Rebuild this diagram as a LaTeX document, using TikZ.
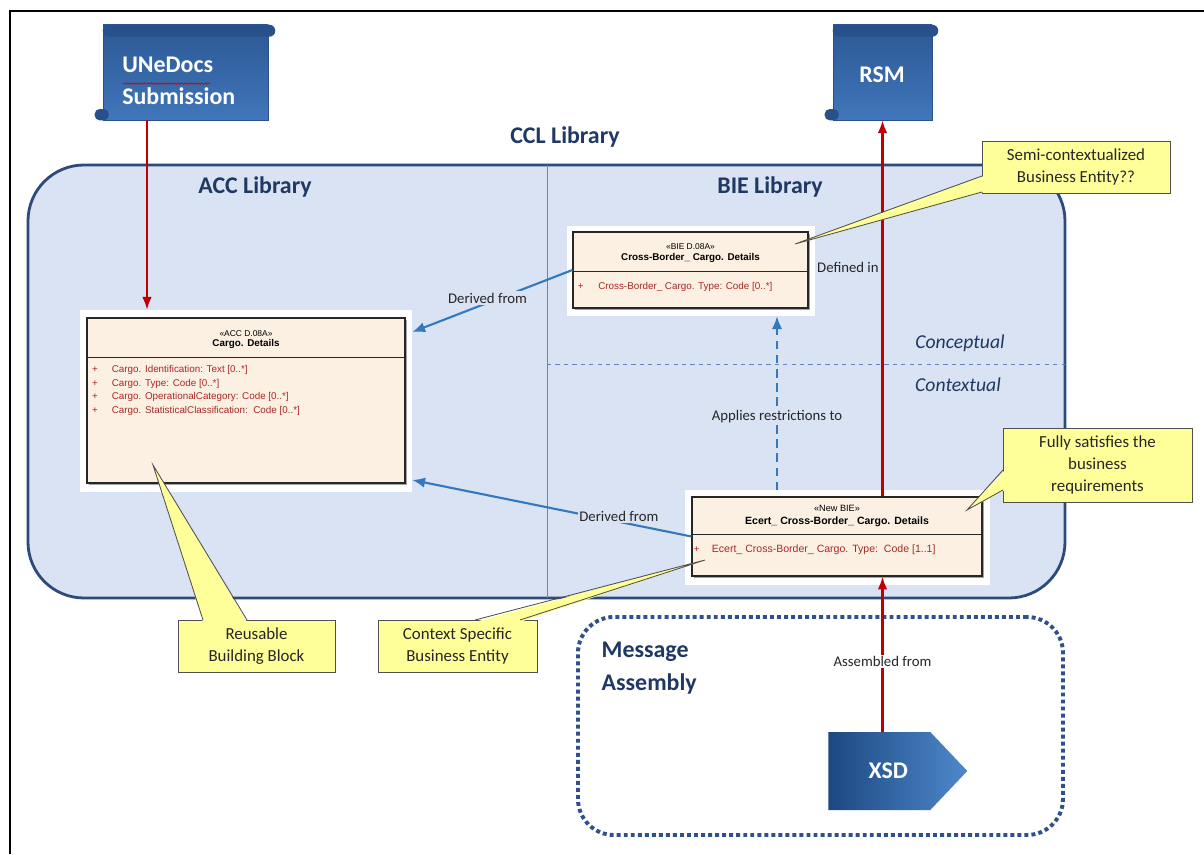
\documentclass[tikz,border=0pt]{standalone}
\usepackage{fontspec}
\setmainfont{Carlito}
\newfontfamily\umlfont{Liberation Sans}
\usetikzlibrary{arrows.meta,shapes.symbols,shadows,decorations.pathmorphing}
\definecolor{cclfill}{RGB}{218,227,243}
\definecolor{cclborder}{RGB}{44,74,122}
\definecolor{navytext}{RGB}{31,56,100}
\definecolor{divider}{RGB}{94,134,194}
\definecolor{scrolltop}{RGB}{44,88,148}
\definecolor{scrollbottom}{RGB}{64,118,186}
\definecolor{scrollroll}{RGB}{40,80,138}
\definecolor{xsddark}{RGB}{28,72,130}
\definecolor{xsdlight}{RGB}{78,136,202}
\definecolor{classfill}{RGB}{252,240,227}
\definecolor{attrred}{RGB}{168,40,36}
\definecolor{arrowred}{RGB}{192,0,0}
\definecolor{arrowblue}{RGB}{52,120,190}
\definecolor{notefill}{RGB}{255,255,153}
\definecolor{noteline}{RGB}{80,80,80}
\definecolor{msgborder}{RGB}{47,80,140}
\begin{document}
\begin{tikzpicture}[
  cclbox/.style={draw=cclborder, line width=2pt, fill=cclfill, rounded corners=1.4cm, inner sep=0pt},
  msgbox/.style={draw=msgborder, line width=2.8pt, dash pattern=on 2.8pt off 2.2pt, rounded corners=0.9cm, inner sep=0pt},
  title/.style={font=\fontsize{17}{20}\selectfont\bfseries, text=navytext, inner sep=1pt},
  layer/.style={font=\fontsize{14}{16}\selectfont\itshape, text=navytext, inner sep=1pt},
  scrollbody/.style={top color=scrolltop, bottom color=scrollbottom, draw=scrollroll, line width=0.4pt, inner sep=0pt},
  scrolltext/.style={font=\fontsize{17}{22.7}\selectfont\bfseries, text=white, inner sep=0pt},
  pad/.style={fill=white, inner sep=0pt},
  classbox/.style={draw=black!85, line width=0.8pt, fill=classfill, inner sep=0pt,
    drop shadow={shadow xshift=0.06cm, shadow yshift=-0.06cm, fill=black!60, opacity=0.6}},
  stereo/.style={font=\umlfont\fontsize{6}{7}\selectfont, inner sep=0pt},
  classname/.style={font=\umlfont\fontsize{7}{8}\selectfont\bfseries, inner sep=0pt},
  attr/.style={font=\umlfont\fontsize{7}{8}\selectfont, text=attrred, inner sep=0pt},
  lbl/.style={font=\fontsize{10.5}{12}\selectfont, text=black!85, inner sep=1pt},
  note/.style={draw=noteline, line width=0.6pt, fill=notefill, align=center, inner sep=0pt,
    font=\fontsize{12}{15.8}\selectfont, text=black!85},
  notefill/.style={fill=notefill},
  noteline/.style={draw=noteline, line width=0.6pt},
  redarrow/.style={draw=arrowred, line width=1.5pt, -{Latex[length=0.32cm,width=0.24cm]}},
  bluearrow/.style={draw=arrowblue, line width=1.5pt, -{Latex[length=0.32cm,width=0.26cm]}}]
  \useasboundingbox (0,0) rectangle (30.1,21.35);
  \fill[white] (0,0) rectangle (30.1,21.35);
  \draw[line width=1.6pt] (0.25,0) -- (0.25,21.075) -- (30.1,21.075);

  % document scrolls
  \node[scrollbody, minimum width=4.125cm, minimum height=2.375cm] (udbody) at (4.6375,19.5375) {};
  \fill[scrollroll, rounded corners=0.15cm] (udbody.north west) rectangle ([xshift=0.175cm,yshift=-0.3cm]udbody.north east);
  \fill[scrollroll, rounded corners=0.12cm] ([xshift=-0.2cm]udbody.south west) rectangle ([xshift=0.15cm,yshift=0.28cm]udbody.south west);
  \node[scrolltext, align=left, anchor=west] (udtext) at (3.05,19.325) {UNeDocs\\Submission};
  \draw[red!80!black, line width=0.5pt, decorate, decoration={snake, amplitude=0.5pt, segment length=2.4pt}] (3.08,19.26) -- (5.25,19.26);
  \node[scrollbody, minimum width=2.475cm, minimum height=2.375cm] (rsm) at (22.0625,19.5375) {};
  \fill[scrollroll, rounded corners=0.15cm] (rsm.north west) rectangle ([xshift=0.15cm,yshift=-0.3cm]rsm.north east);
  \fill[scrollroll, rounded corners=0.12cm] ([xshift=-0.2cm]rsm.south west) rectangle ([xshift=0.15cm,yshift=0.28cm]rsm.south west);
  \node[scrolltext] (rsmtext) at (22.05,19.475) {RSM};

  % CCL library
  \node[title] (ccltitle) at (14.125,17.925) {CCL Library};
  \node[cclbox, minimum width=25.925cm, minimum height=10.825cm] (ccl) at (13.6625,11.8125) {};
  \draw[divider, line width=0.6pt] (13.675,17.225) -- (13.675,6.40);
  \draw[divider, line width=0.6pt, dashed] (13.675,12.25) -- (26.625,12.25);
  \node[title] (acclib) at (6.375,16.675) {ACC Library};
  \node[title] (bielib) at (19.25,16.675) {BIE Library};
  \node[layer] (concept) at (24.0,12.775) {Conceptual};
  \node[layer] (context) at (23.95,11.725) {Contextual};

  % message assembly
  \node[msgbox, minimum width=12.125cm, minimum height=5.45cm] (msg) at (20.5125,3.20) {};
  \node[title, align=left, anchor=west, font=\fontsize{17}{23.4}\selectfont\bfseries] (msgtitle) at (15.0,4.64) {Message\\Assembly};
  \node[signal, signal to=east, signal pointer angle=93, left color=xsddark, right color=xsdlight, anchor=west,
    minimum width=3.475cm, minimum height=1.95cm, inner sep=0pt, font=\fontsize{17}{20}\selectfont\bfseries, text=white] (xsd) at (20.70,2.075) {\hspace*{0.45cm}XSD};

  % ACC class
  \node[pad, minimum width=8.30cm, minimum height=4.55cm] (accpad) at (6.15,11.325) {};
  \node[classbox, minimum width=7.95cm, minimum height=4.125cm] (acc) at (6.15,11.3375) {};
  \draw[line width=0.8pt, black!85] ([yshift=-1.0cm]acc.north west) -- ([yshift=-1.0cm]acc.north east);
  \node[stereo] at (6.15,13.017) {«ACC D.08A»};
  \node[classname] at (6.15,12.742) {Cargo. Details};
  \node[attr] at (2.375,12.100) {+};
  \node[attr, anchor=west] at (2.79,12.100) {Cargo. Identification: Text [0..*]};
  \node[attr] at (2.375,11.763) {+};
  \node[attr, anchor=west] at (2.79,11.763) {Cargo. Type: Code [0..*]};
  \node[attr] at (2.375,11.425) {+};
  \node[attr, anchor=west] at (2.79,11.425) {Cargo. OperationalCategory: Code [0..*]};
  \node[attr] at (2.375,11.088) {+};
  \node[attr, anchor=west] at (2.79,11.088) {Cargo. StatisticalClassification:\ \ Code [0..*]};

  % BIE class
  \node[pad, minimum width=6.20cm, minimum height=2.25cm] (biepad) at (17.275,14.575) {};
  \node[classbox, minimum width=5.875cm, minimum height=1.90cm] (bie) at (17.2625,14.60) {};
  \draw[line width=0.8pt, black!85] ([yshift=-1.0cm]bie.north west) -- ([yshift=-1.0cm]bie.north east);
  \node[stereo] at (17.2625,15.175) {«BIE D.08A»};
  \node[classname] at (17.2625,14.90) {Cross-Border\_ Cargo. Details};
  \node[attr] at (14.52,14.175) {+};
  \node[attr, anchor=west] at (14.95,14.175) {Cross-Border\_ Cargo. Type: Code [0..*]};

  % new BIE class
  \node[pad, minimum width=7.625cm, minimum height=2.375cm] (newbiepad) at (20.9375,7.9125) {};
  \node[classbox, minimum width=7.25cm, minimum height=1.975cm] (newbie) at (20.925,7.9375) {};
  \draw[line width=0.8pt, black!85] ([yshift=-0.95cm]newbie.north west) -- ([yshift=-0.95cm]newbie.north east);
  \node[stereo, font=\umlfont\fontsize{6.5}{7}\selectfont] at (20.925,8.65) {«New BIE»};
  \node[classname, font=\umlfont\fontsize{7.5}{8}\selectfont\bfseries] at (20.925,8.30) {Ecert\_ Cross-Border\_ Cargo. Details};
  \node[attr] at (17.42,7.60) {+};
  \node[attr, anchor=west, font=\umlfont\fontsize{7.5}{8}\selectfont] at (17.79,7.60) {Ecert\_ Cross-Border\_ Cargo. Type:\ \ Code [1..1]};

  % connectors
  \coordinate (udfoot) at (3.675,18.35);
  \coordinate (restrict) at (19.425,9.10);
  \draw[redarrow] (udfoot) -- (udfoot |- accpad.north);
  \draw[bluearrow] (bie.west) -- ([yshift=1.725cm]accpad.east)
    node[lbl, fill=cclfill, pos=0.53, yshift=3.5pt] {Derived from};
  \draw[bluearrow] (newbie.west) -- ([yshift=-1.975cm]accpad.east)
    node[lbl, fill=cclfill, pos=0.26, yshift=4pt] {Derived from};
  \draw[bluearrow, dash pattern=on 6pt off 4pt] (restrict) -- (restrict |- biepad.south)
    node[lbl, fill=cclfill, pos=0.425] {Applies restrictions to};
  \draw[redarrow] (newbie.north -| rsm.south) -- (rsm.south)
    node[lbl, pos=0.61, left=1pt] {Defined in};
  \draw[redarrow] (xsd.north -| rsm.south) -- (newbie.south -| rsm.south)
    node[lbl, fill=white, pos=0.455] {Assembled from};

  % callouts
  \node[note, minimum width=4.70cm, minimum height=1.30cm] (semi) at (26.90,17.175) {Semi-contextualized\\Business Entity??};
  \coordinate (semitip) at (19.875,15.25);
  \fill[notefill] (semitip) -- (24.60,16.95) -- (24.60,16.55) -- cycle;
  \draw[noteline] (24.55,16.95) -- (semitip) -- (24.55,16.55);

  \node[note, minimum width=4.725cm, minimum height=1.85cm] (fully) at (27.4375,9.725) {Fully satisfies the\\business\\requirements};
  \coordinate (fullytip) at (24.175,8.60);
  \fill[notefill] (fullytip) -- (25.125,9.60) -- (25.125,9.10) -- cycle;
  \draw[noteline] (25.075,9.60) -- (fullytip) -- (25.075,9.10);

  \node[note, minimum width=3.925cm, minimum height=1.30cm] (reuse) at (6.4125,5.20) {Reusable\\Building Block};
  \coordinate (reusetip) at (3.825,9.725);
  \fill[notefill] (reusetip) -- (5.075,5.80) -- (6.175,5.80) -- cycle;
  \draw[noteline] (5.075,5.85) -- (reusetip) -- (6.175,5.85);

  \node[note, minimum width=3.975cm, minimum height=1.30cm] (ctxnote) at (11.4375,5.20) {Context Specific\\Business Entity};
  \coordinate (ctxtip) at (17.625,7.35);
  \fill[notefill] (ctxtip) -- (11.875,5.80) -- (13.0,5.80) -- cycle;
  \draw[noteline] (11.875,5.85) -- (ctxtip) -- (13.0,5.85);
\end{tikzpicture}
\end{document}
